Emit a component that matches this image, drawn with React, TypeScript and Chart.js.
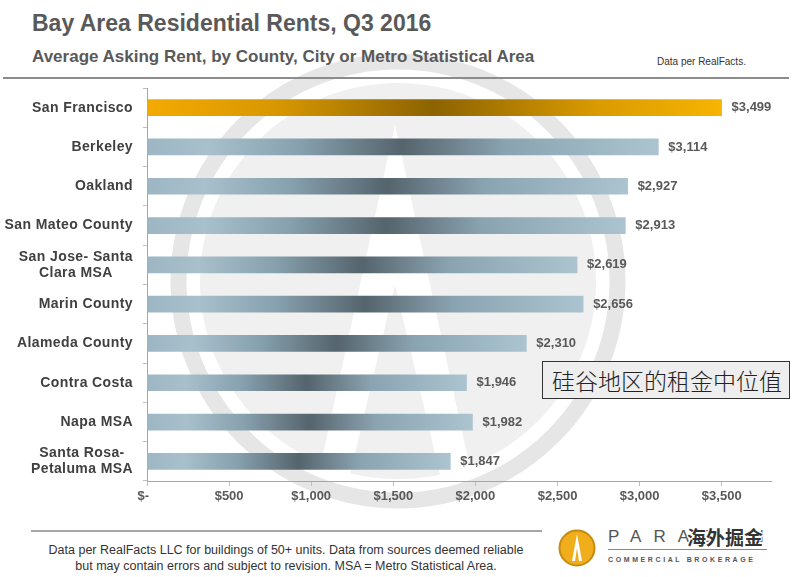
import React, { useEffect, useRef } from 'react';
import { Chart, registerables } from 'chart.js';

Chart.register(...registerables);

// ---- data ----
const categories: string[][] = [
  ['San Francisco'],
  ['Berkeley'],
  ['Oakland'],
  ['San Mateo County'],
  ['San Jose- Santa', 'Clara MSA'],
  ['Marin County'],
  ['Alameda County'],
  ['Contra Costa'],
  ['Napa MSA'],
  ['Santa Rosa-', 'Petaluma MSA'],
];
const rents: number[] = [3499, 3114, 2927, 2913, 2619, 2656, 2310, 1946, 1982, 1847];
const highlighted: boolean[] = [true, false, false, false, false, false, false, false, false, false];
const xTickValues: number[] = [0, 500, 1000, 1500, 2000, 2500, 3000, 3500];
const xTickLabels: string[] = ['$-  ', '$500', '$1,000', '$1,500', '$2,000', '$2,500', '$3,000', '$3,500'];
const xMax = 3800;

const FONT = '"Liberation Sans", Arial, Helvetica, sans-serif';

function barFill(context: any) {
  const isGold = highlighted[context.dataIndex];
  if (context.type !== 'data') return '#8fa7b4';
  const chart = context.chart;
  const xs = chart.scales && chart.scales.x;
  if (!chart.chartArea || !xs) return isGold ? '#d99a00' : '#8fa7b4';
  const x0 = xs.getPixelForValue(0);
  const x1 = xs.getPixelForValue(context.raw as number);
  const g = chart.ctx.createLinearGradient(x0, 0, x1, 0);
  if (isGold) {
    g.addColorStop(0, '#f3aa00');
    g.addColorStop(0.22, '#d99800');
    g.addColorStop(0.5, '#8c6300');
    g.addColorStop(0.78, '#d99a00');
    g.addColorStop(1, '#f7b400');
  } else {
    g.addColorStop(0, '#9db6c3');
    g.addColorStop(0.12, '#a8c0cc');
    g.addColorStop(0.3, '#86a0ad');
    g.addColorStop(0.5, '#55646d');
    g.addColorStop(0.7, '#8aa3b0');
    g.addColorStop(1, '#abc4d0');
  }
  return g;
}

const labelsPlugin = {
  id: 'customLabels',
  afterDatasetsDraw(chart: any) {
    const { ctx } = chart;
    const ys = chart.scales.y;
    ctx.save();
    // category labels (block right-aligned, lines centred)
    ctx.font = `bold 14px ${FONT}`;
    (ctx as any).letterSpacing = '0.4px';
    ctx.fillStyle = '#404040';
    ctx.textBaseline = 'middle';
    ctx.textAlign = 'center';
    const right = ys.right - 4 - 10;
    categories.forEach((lines, i) => {
      const y = ys.getPixelForValue(i);
      const w = Math.max(...lines.map((l) => ctx.measureText(l).width));
      const cx = right - w / 2;
      const lh = 16;
      lines.forEach((l, j) => ctx.fillText(l, cx, y + (j - (lines.length - 1) / 2) * lh));
    });
    // value labels
    (ctx as any).letterSpacing = '0px';
    ctx.font = `bold 13px ${FONT}`;
    ctx.fillStyle = '#595959';
    ctx.textAlign = 'left';
    const meta = chart.getDatasetMeta(0);
    meta.data.forEach((bar: any, i: number) => {
      ctx.fillText('$' + rents[i].toLocaleString('en-US'), bar.x + 10, bar.y);
    });
    ctx.restore();
  },
};

function RentChart() {
  const ref = useRef<HTMLCanvasElement | null>(null);
  useEffect(() => {
    if (!ref.current) return;
    const chart = new Chart(ref.current, {
      type: 'bar',
      data: {
        labels: categories.map((c) => c.join(' ')),
        datasets: [
          {
            data: rents,
            backgroundColor: barFill as any,
            borderWidth: 0,
            barThickness: 16,
          },
        ],
      },
      options: {
        indexAxis: 'y',
        responsive: false,
        animation: false,
        devicePixelRatio: 1,
        layout: { padding: { top: 8, right: 21, left: 0, bottom: 0 } },
        plugins: { legend: { display: false }, tooltip: { enabled: false } },
        scales: {
          x: {
            type: 'linear',
            min: 0,
            max: xMax,
            afterBuildTicks: (s: any) => {
              s.ticks = xTickValues.map((v) => ({ value: v }));
            },
            afterFit: (s: any) => {
              s.height = 39;
            },
            grid: { drawOnChartArea: false, drawTicks: true, tickLength: 5, color: '#bfbfbf' },
            border: { color: '#a6a6a6', width: 1 },
            ticks: {
              padding: 3,
              maxRotation: 0,
              autoSkip: false,
              color: '#595959',
              font: { family: FONT, size: 13, weight: 'bold' },
              callback: (v: any) => {
                const i = xTickValues.indexOf(Number(v));
                return i >= 0 ? xTickLabels[i] : '';
              },
            },
          },
          y: {
            type: 'category',
            afterFit: (s: any) => {
              s.width = 147;
            },
            grid: { offset: true, drawOnChartArea: false, drawTicks: true, tickLength: 4, color: '#bfbfbf' },
            border: { color: '#a6a6a6', width: 1 },
            ticks: { display: false },
          },
        },
      },
      plugins: [labelsPlugin],
    });
    return () => chart.destroy();
  }, []);
  return (
    <canvas
      ref={ref}
      width={792}
      height={440}
      style={{ position: 'absolute', left: 0, top: 80, width: 792, height: 440 }}
    />
  );
}

function Watermark() {
  return (
    <svg width={792} height={577} style={{ position: 'absolute', left: 0, top: 0 }}>
      <defs>
        <clipPath id="disc">
          <circle cx={398} cy={281} r={198} />
        </clipPath>
      </defs>
      <circle cx={398} cy={281} r={219.5} fill="none" stroke="#e6e6e6" strokeWidth={16} />
      <circle cx={398} cy={281} r={198} fill="#f0f0f0" />
      <g clipPath="url(#disc)">
        <polygon points="395,125 477,500 313,500" fill="#ffffff" />
        <polygon points="395,285 446,500 344,500" fill="#f0f0f0" />
      </g>
    </svg>
  );
}

export default function App() {
  return (
    <div
      style={{
        position: 'fixed',
        left: 0,
        top: 0,
        width: 792,
        height: 577,
        background: '#ffffff',
        overflow: 'hidden',
        fontFamily: FONT,
      }}
    >
      <Watermark />
      <div
        style={{
          position: 'absolute',
          left: 32,
          top: 10,
          fontSize: 23,
          lineHeight: '26px',
          fontWeight: 'bold',
          color: '#595959',
          whiteSpace: 'nowrap',
        }}
      >
        Bay Area Residential Rents, Q3 2016
      </div>
      <div
        style={{
          position: 'absolute',
          left: 32,
          top: 47,
          fontSize: 17,
          lineHeight: '20px',
          fontWeight: 'bold',
          color: '#595959',
          whiteSpace: 'nowrap',
        }}
      >
        Average Asking Rent, by County, City or Metro Statistical Area
      </div>
      <div
        style={{
          position: 'absolute',
          left: 657,
          top: 56,
          fontSize: 10,
          lineHeight: '12px',
          color: '#333333',
          whiteSpace: 'nowrap',
        }}
      >
        Data per RealFacts.
      </div>
      <div style={{ position: 'absolute', left: 3, top: 77, width: 786, height: 2, background: '#8c8c8c' }} />

      <RentChart />

      <div
        style={{
          position: 'absolute',
          left: 542,
          top: 361,
          width: 248,
          height: 38,
          boxSizing: 'border-box',
          border: '1px solid #333333',
          background: '#eeeeee',
          fontFamily: '"Noto Sans CJK SC", sans-serif',
          fontSize: 23,
          fontWeight: 300,
          lineHeight: '36px',
          paddingLeft: 9,
          color: '#222222',
          whiteSpace: 'nowrap',
        }}
      >
        硅谷地区的租金中位值
      </div>

      <div style={{ position: 'absolute', left: 31, top: 530, width: 511, height: 2, background: '#a6a6a6' }} />
      <div
        style={{
          position: 'absolute',
          left: 0,
          top: 542,
          width: 572,
          textAlign: 'center',
          fontSize: 12.5,
          lineHeight: '16px',
          color: '#333333',
        }}
      >
        Data per RealFacts LLC for buildings of 50+ units. Data from sources deemed reliable
        <br />
        but may contain errors and subject to revision. MSA = Metro Statistical Area.
      </div>

      <svg width={40} height={40} style={{ position: 'absolute', left: 557, top: 528 }}>
        <circle cx={20} cy={20} r={17.5} fill="#f0ae1c" stroke="#c58a10" strokeWidth={2} />
        <polygon points="20,6 25,33 22,33 20,20 18,33 15,33" fill="#ffffff" />
      </svg>
      <div
        style={{
          position: 'absolute',
          left: 608,
          top: 527,
          fontSize: 17,
          lineHeight: '20px',
          letterSpacing: '12px',
          color: '#555555',
          whiteSpace: 'nowrap',
        }}
      >
        PARAGON
      </div>
      <div style={{ position: 'absolute', left: 608, top: 549, width: 159, height: 1, background: '#888888' }} />
      <div
        style={{
          position: 'absolute',
          left: 608,
          top: 555,
          fontSize: 7,
          lineHeight: '10px',
          letterSpacing: '2.6px',
          fontWeight: 'bold',
          color: '#555555',
          whiteSpace: 'nowrap',
        }}
      >
        COMMERCIAL BROKERAGE
      </div>
      <div
        style={{
          position: 'absolute',
          left: 687,
          top: 526,
          fontFamily: '"Noto Sans CJK SC", sans-serif',
          fontSize: 19,
          lineHeight: '22px',
          fontWeight: 'bold',
          color: '#333333',
          textShadow: '1px 1px 0 #fff, -1px -1px 0 #fff, 1px -1px 0 #fff, -1px 1px 0 #fff',
          whiteSpace: 'nowrap',
        }}
      >
        海外掘金
      </div>
    </div>
  );
}
